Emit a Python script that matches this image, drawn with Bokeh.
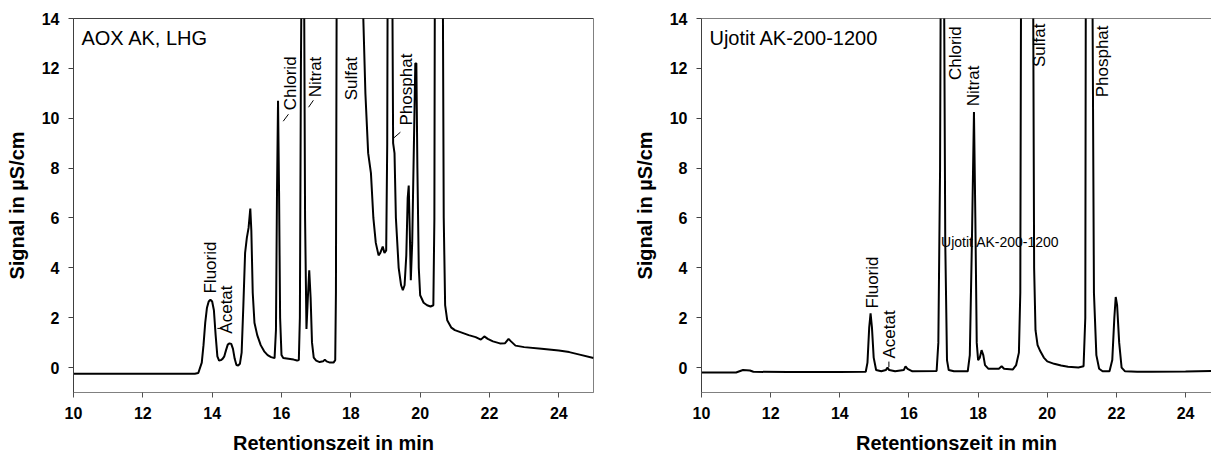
import math
from bokeh.plotting import figure
from bokeh.models import Range1d, FixedTicker, Span
from bokeh.layouts import row
from bokeh.embed import file_html
from bokeh.resources import INLINE
from bokeh.core.properties import value

FONT = "Liberation Sans"

# ---------------- data ----------------
left_time = [10.0, 13.5, 13.6, 13.7, 13.75, 13.8, 13.85, 13.9, 13.95, 14.0, 14.05, 14.1, 14.15, 14.2,
             14.25, 14.3, 14.35, 14.4, 14.45, 14.5, 14.55, 14.6, 14.65, 14.7, 14.75, 14.8, 14.85, 14.9,
             14.95, 15.0, 15.05, 15.1, 15.13, 15.17, 15.22, 15.3, 15.4, 15.5, 15.6, 15.7, 15.8, 15.84,
             15.87, 15.9, 15.93, 15.96, 16.0, 16.05, 16.2, 16.35, 16.45, 16.5, 16.53, 16.56, 16.6, 16.65,
             16.68, 16.72, 16.76, 16.8, 16.84, 16.88, 16.93, 17.0, 17.1, 17.2, 17.25, 17.3, 17.4, 17.5,
             17.55, 17.57, 17.6, 18.3, 18.36, 18.42, 18.5, 18.58, 18.65, 18.72, 18.8, 18.85, 18.92, 18.97,
             19.02, 19.05, 19.07, 19.18, 19.22, 19.26, 19.3, 19.38, 19.45, 19.5, 19.55, 19.6, 19.64, 19.67,
             19.7, 19.73, 19.77, 19.82, 19.86, 19.89, 19.92, 19.96, 20.0, 20.1, 20.2, 20.3, 20.38, 20.41,
             20.43, 20.64, 20.68, 20.72, 20.78, 20.9, 21.0, 21.2, 21.4, 21.6, 21.75, 21.85, 21.95, 22.1,
             22.3, 22.45, 22.55, 22.62, 22.75, 23.0, 23.5, 24.0, 24.3, 24.6, 25.0]
left_signal = [-0.25, -0.25, -0.22, 0.2, 0.9, 1.8, 2.4, 2.65, 2.72, 2.65, 2.3, 1.3, 0.45, 0.28,
               0.3, 0.35, 0.45, 0.7, 0.92, 0.97, 0.95, 0.75, 0.35, 0.1, 0.08, 0.15, 0.6, 2.5,
               4.6, 5.2, 5.6, 6.38, 5.5, 3.0, 1.8, 1.3, 0.9, 0.65, 0.5, 0.42, 0.38, 1.5,
               7.0, 10.7, 7.0, 2.0, 0.5, 0.38, 0.35, 0.32, 0.28, 0.3, 2.0, 12.0, 20.0, 16.0,
               6.0, 1.55, 2.8, 3.9, 2.8, 1.0, 0.4, 0.28, 0.22, 0.25, 0.32, 0.25, 0.2, 0.2,
               0.3, 3.0, 20.0, 20.0, 14.0, 11.0, 8.6, 7.8, 6.0, 5.0, 4.5, 4.6, 4.85, 4.6,
               4.7, 9.0, 20.0, 20.0, 9.0, 8.6, 6.0, 4.0, 3.3, 3.1, 3.3, 4.5, 6.8, 7.3,
               5.5, 3.5, 5.0, 9.0, 12.2, 12.2, 8.0, 4.0, 2.9, 2.6, 2.5, 2.45, 2.5, 6.0,
               20.0, 20.0, 6.0, 2.5, 1.9, 1.6, 1.5, 1.4, 1.3, 1.22, 1.12, 1.25, 1.15, 1.05,
               0.97, 0.98, 1.15, 1.05, 0.88, 0.82, 0.75, 0.68, 0.62, 0.52, 0.38]

right_time = [10.0, 11.0, 11.1, 11.2, 11.4, 11.5, 12.5, 14.0, 14.75, 14.8, 14.85, 14.89, 14.93, 14.98,
              15.05, 15.2, 15.33, 15.38, 15.43, 15.6, 15.85, 15.9, 15.96, 16.1, 16.8, 16.85, 16.9, 16.93,
              17.0, 17.05, 17.1, 17.15, 17.3, 17.7, 17.76, 17.82, 17.88, 17.92, 17.96, 18.0, 18.05, 18.1,
              18.15, 18.2, 18.3, 18.6, 18.68, 18.75, 19.0, 19.1, 19.18, 19.22, 19.25, 19.58, 19.62, 19.66,
              19.72, 19.8, 19.9, 20.0, 20.2, 20.4, 20.6, 20.9, 21.05, 21.1, 21.12, 21.29, 21.35, 21.42,
              21.5, 21.6, 21.8, 21.88, 21.94, 21.98, 22.02, 22.08, 22.15, 22.25, 22.6, 23.0, 24.0, 24.75]
right_signal = [-0.2, -0.2, -0.15, -0.1, -0.12, -0.17, -0.18, -0.18, -0.17, 0.2, 1.6, 2.17, 1.6, 0.4,
                -0.1, -0.15, -0.1, 0.0, -0.1, -0.15, -0.1, 0.05, -0.05, -0.15, -0.14, 1.0, 8.0, 20.0,
                20.0, 5.0, 0.3, -0.1, -0.15, -0.15, 0.5, 5.0, 10.25, 6.0, 1.0, 0.3, 0.4, 0.7,
                0.5, 0.1, -0.05, -0.05, 0.05, -0.05, -0.08, 0.1, 0.6, 3.0, 20.0, 20.0, 4.0, 1.5,
                0.9, 0.65, 0.4, 0.25, 0.15, 0.08, 0.03, 0.0, 0.05, 2.0, 20.0, 20.0, 3.0, 0.5,
                -0.05, -0.15, -0.15, 0.3, 2.0, 2.83, 2.5, 1.0, 0.0, -0.15, -0.17, -0.17, -0.16, -0.14]

x_ticks = [10, 12, 14, 16, 18, 20, 22, 24]
y_ticks = [0, 2, 4, 6, 8, 10, 12, 14]
x_title = "Retentionszeit in min"
y_title = "Signal in µS/cm"

left_title = "AOX AK, LHG"
left_peak_names = ["Fluorid", "Acetat", "Chlorid", "Nitrat", "Sulfat", "Phosphat"]
left_label_x = [13.95, 14.40, 16.26, 16.98, 18.01, 19.60]
left_label_y = [2.97, 1.36, 10.32, 10.84, 10.72, 9.71]
left_leader_x0 = [14.15, 16.05, 16.78, 19.23]
left_leader_y0 = [1.57, 9.88, 10.44, 9.20]
left_leader_x1 = [14.30, 16.20, 16.92, 19.43]
left_leader_y1 = [1.57, 10.16, 10.72, 9.44]

right_title = "Ujotit AK-200-1200"
right_peak_names = ["Fluorid", "Acetat", "Chlorid", "Nitrat", "Sulfat", "Phosphat"]
right_label_x = [14.94, 15.43, 17.36, 17.88, 19.78, 21.60]
right_label_y = [2.37, 0.36, 11.53, 10.48, 12.05, 10.84]
right_leader_x0 = [15.42]
right_leader_y0 = [0.02]
right_leader_x1 = [15.42]
right_leader_y1 = [0.24]
right_note = "Ujotit AK-200-1200"
right_note_x = [16.93]
right_note_y = [5.04]


def panel(time, signal, x_end, width, border_left, border_right, title, names, lx, ly,
          lead_x0, lead_y0, lead_x1, lead_y1, outline):
    p = figure(width=width, height=459, output_backend="svg", toolbar_location=None,
               x_range=Range1d(10, x_end), y_range=Range1d(-1, 14),
               min_border_left=border_left, min_border_right=border_right,
               min_border_top=18, min_border_bottom=67)
    p.grid.visible = False
    p.background_fill_color = "white"
    p.border_fill_color = "white"
    p.outline_line_color = "#808080" if outline else None
    p.xaxis.ticker = FixedTicker(ticks=x_ticks)
    p.yaxis.ticker = FixedTicker(ticks=y_ticks)
    for ax in (p.xaxis[0], p.yaxis[0]):
        ax.major_tick_in = 0
        ax.major_tick_out = 5
        ax.minor_tick_line_color = None
        ax.major_label_text_font = FONT
        ax.major_label_text_font_style = "bold"
        ax.major_label_text_font_size = "16px"
        ax.major_label_text_color = "black"
        ax.axis_label_text_font = FONT
        ax.axis_label_text_font_style = "bold"
        ax.axis_label_text_font_size = "20px"
        ax.axis_label_text_color = "black"
    p.xaxis.axis_label = x_title
    p.yaxis.axis_label = y_title
    p.xaxis.axis_line_color = "#808080"
    p.xaxis.major_tick_line_color = "#505050"
    p.yaxis.axis_line_color = "#404040"
    p.yaxis.major_tick_line_color = "#404040"
    p.xaxis.major_label_standoff = 9
    p.yaxis.major_label_standoff = 9
    p.xaxis.axis_label_standoff = 10
    p.yaxis.axis_label_standoff = 11

    p.add_layout(Span(location=14, dimension="width", line_color="black", line_width=1))

    p.line(time, signal, line_color="black", line_width=2)

    p.segment(x0=lead_x0, y0=lead_y0, x1=lead_x1, y1=lead_y1, line_color="black", line_width=1)

    p.text(x=lx, y=ly, text=names, angle=math.pi / 2, text_align="left",
           text_baseline="middle", text_font=value(FONT), text_font_size="17px",
           text_color="black")
    p.text(x=[10.23], y=[13.2], text=[title], text_align="left", text_baseline="middle",
           text_font=value(FONT), text_font_size="20px", text_color="black")
    return p


left = panel(left_time, left_signal, 25, 630, 73, 37, left_title, left_peak_names,
             left_label_x, left_label_y, left_leader_x0, left_leader_y0,
             left_leader_x1, left_leader_y1, True)
right = panel(right_time, right_signal, 24.75, 581, 70, 0, right_title, right_peak_names,
              right_label_x, right_label_y, right_leader_x0, right_leader_y0,
              right_leader_x1, right_leader_y1, False)
right.text(x=right_note_x, y=right_note_y, text=[right_note], text_align="left",
           text_baseline="middle", text_font=value(FONT), text_font_size="14px",
           text_color="black")

layout = row(left, right)
open("out.html", "w").write(file_html(layout, INLINE))
